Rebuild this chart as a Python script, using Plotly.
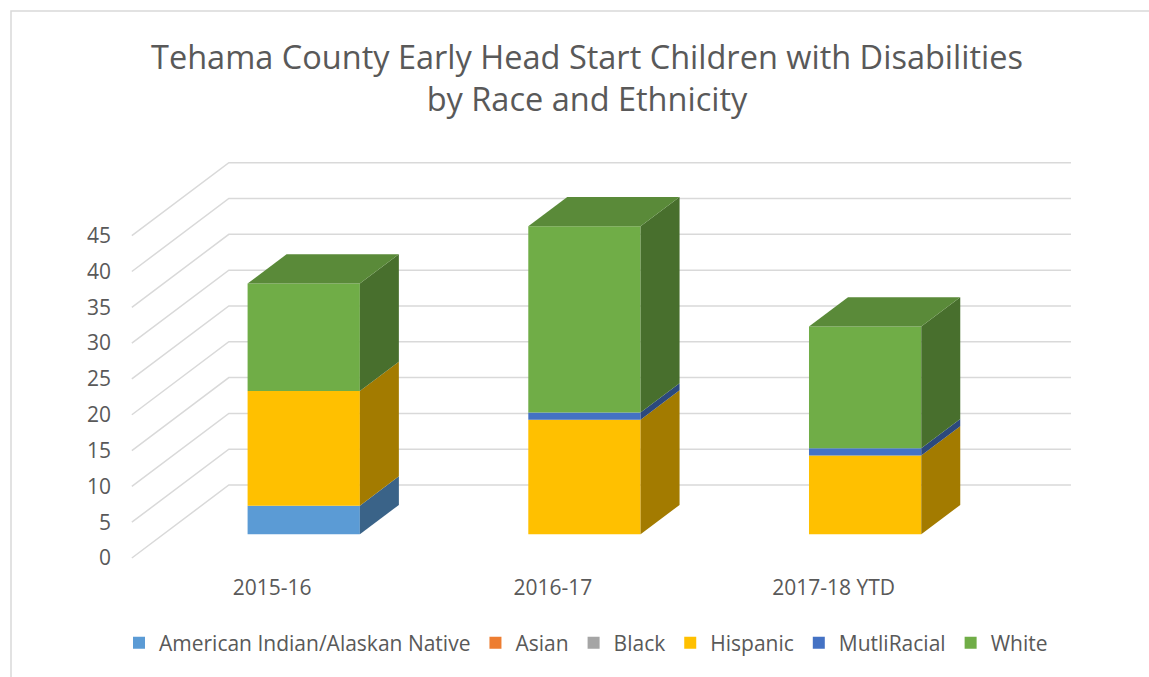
import plotly.graph_objects as go

# ---------------- data ----------------
categories = ["2015-16", "2016-17", "2017-18 YTD"]
series_names = ["American Indian/Alaskan Native", "Asian", "Black", "Hispanic", "MutliRacial", "White"]
american_indian = [4, 0, 0]
asian = [0, 0, 0]
black = [0, 0, 0]
hispanic = [16, 16, 11]
multiracial = [0, 1, 1]
white = [15, 26, 17]
y_ticks = [0, 5, 10, 15, 20, 25, 30, 35, 40, 45]
title_text = "Tehama County Early Head Start Children with Disabilities<br>by Race and Ethnicity"

series_values = [american_indian, asian, black, hispanic, multiracial, white]
colors = ["#5B9BD5", "#ED7D31", "#A5A5A5", "#FFC000", "#4472C4", "#70AD47"]

# ---------------- geometry / style ----------------
W, H = 1149, 677
SX, X0PX = 280.7, 272.2          # px per category, px of category 0
SY, Y0PX = 7.162, 558.0          # px per unit, px of value 0 (front floor)
L, R, T, B = 118, 1120, 140, 565  # plot area in px
DX = 97 / SX                     # full depth offset, x units
DY = 73 / SY                     # full depth offset, y units
BAR_W = 0.4
D_FRONT, D_BACK = 0.325, 0.727
GRID = "#D9D9D9"
TXT = "#595959"
FONT = "Open Sans, Segoe UI, sans-serif"

x_range = [(L - X0PX) / SX, (R - X0PX) / SX]
y_range = [(Y0PX - B) / SY, (Y0PX - T) / SY]


def shade(hexcol, k):
    h = hexcol.lstrip("#")
    r, g, b = (int(h[i:i + 2], 16) for i in (0, 2, 4))
    return "rgb(%d,%d,%d)" % (round(r * k), round(g * k), round(b * k))


fig = go.Figure()

# front faces (real bars)
n = len(categories)
cum = [0.0] * n
bases = []
for name, vals, col in zip(series_names, series_values, colors):
    base = list(cum)
    bases.append(base)
    fig.add_trace(go.Bar(
        name=name,
        x=[i + D_FRONT * DX for i in range(n)],
        y=vals,
        base=[b + D_FRONT * DY for b in base],
        width=BAR_W,
        marker=dict(color=col, line=dict(width=0)),
        hovertemplate=name + ": %{y}<extra></extra>",
    ))
    cum = [c + v for c, v in zip(cum, vals)]

# side faces
for name, vals, col, base in zip(series_names, series_values, colors, bases):
    xs, ys = [], []
    for i in range(n):
        if vals[i] <= 0:
            continue
        xr = i + BAR_W / 2
        b0, t0 = base[i], base[i] + vals[i]
        xs += [xr + D_FRONT * DX, xr + D_BACK * DX, xr + D_BACK * DX, xr + D_FRONT * DX, None]
        ys += [b0 + D_FRONT * DY, b0 + D_BACK * DY, t0 + D_BACK * DY, t0 + D_FRONT * DY, None]
    if xs:
        fig.add_trace(go.Scatter(x=xs, y=ys, mode="lines", fill="toself",
                                 fillcolor=shade(col, 0.64), line=dict(width=0),
                                 showlegend=False, hoverinfo="skip"))

# top faces (top-most non-zero segment)
for i in range(n):
    top_idx = None
    for s, vals in enumerate(series_values):
        if vals[i] > 0:
            top_idx = s
    if top_idx is None:
        continue
    t0 = cum[i]
    xl, xr = i - BAR_W / 2, i + BAR_W / 2
    fig.add_trace(go.Scatter(
        x=[xl + D_FRONT * DX, xr + D_FRONT * DX, xr + D_BACK * DX, xl + D_BACK * DX],
        y=[t0 + D_FRONT * DY, t0 + D_FRONT * DY, t0 + D_BACK * DY, t0 + D_BACK * DY],
        mode="lines", fill="toself", fillcolor=shade(colors[top_idx], 0.8),
        line=dict(width=0), showlegend=False, hoverinfo="skip"))

# gridlines: left side wall diagonals + back wall horizontals
shapes = []
xl_front, xr_front = -0.5, n - 0.5
for v in y_ticks:
    path = "M %f,%f L %f,%f L %f,%f" % (xl_front, v, xl_front + DX, v + DY, xr_front + DX, v + DY)
    shapes.append(dict(type="path", path=path, xref="x", yref="y", layer="below",
                       line=dict(color=GRID, width=1.5)))

# chart border, only left and top edges visible (px -> paper)
def pxx(p):
    return (p - L) / (R - L)


def pyy(p):
    return (B - p) / (B - T)


border = "M %f,%f L %f,%f L %f,%f" % (pxx(11), pyy(700), pxx(11), pyy(11), pxx(1170), pyy(11))
shapes.append(dict(type="path", path=border, xref="paper", yref="paper",
                   line=dict(color=GRID, width=1.5), layer="below"))

fig.update_layout(
    width=W, height=H,
    margin=dict(l=L, r=W - R, t=T, b=H - B),
    paper_bgcolor="white", plot_bgcolor="white",
    barmode="overlay",
    font=dict(family=FONT, color=TXT, size=21),
    title=dict(text=title_text, x=587 / W, xanchor="center", xref="container",
               y=1 - 68.5 / H, yanchor="middle", yref="container",
               font=dict(size=32.5, color=TXT, family=FONT)),
    xaxis=dict(range=x_range, tickvals=list(range(n)), ticktext=categories,
               showgrid=False, zeroline=False, showline=False, ticks="",
               tickfont=dict(size=21, color=TXT), ticklabelstandoff=8, fixedrange=True),
    yaxis=dict(range=y_range, tickvals=y_ticks, showgrid=False, zeroline=False,
               showline=False, ticks="", tickfont=dict(size=21, color=TXT),
               ticklabelstandoff=6, fixedrange=True),
    legend=dict(orientation="h", xref="container", yref="container",
                x=586 / W, xanchor="center", y=1 - 643 / H, yanchor="middle",
                font=dict(size=21, color=TXT), traceorder="normal"),
    shapes=shapes,
    showlegend=True,
)

fig.write_html("out.html", config={"displayModeBar": False},
               post_script="document.body.style.margin='0px';")
